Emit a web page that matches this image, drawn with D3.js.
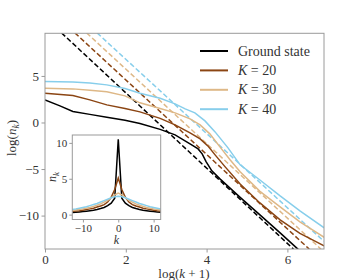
<!DOCTYPE html>
<html>
<head>
<meta charset="utf-8">
<script src="https://cdn.jsdelivr.net/npm/d3@7"></script>
<style>
  body { margin: 0; background: #fff; }
</style>
</head>
<body>
<svg width="360" height="280" font-family="Liberation Serif"></svg>
<script>
// series names and colours
const seriesNames = ["Ground state", "K = 20", "K = 30", "K = 40"];
const seriesColors = ["#000000", "#8b4513", "#deb887", "#87ceeb"];

// main panel: solid curves, [log(k+1), log(n_k)]
const groundSolid = [[0, 2.43], [0.37, 1.78], [0.69, 1.19], [1.11, 0.87], [1.53, 0.57], [1.98, 0.23],
  [2.35, -0.10], [2.85, -0.74], [3.22, -1.33], [3.59, -2.30], [3.79, -2.84], [3.89, -3.37],
  [3.99, -4.23], [4.13, -5.20], [4.33, -6.06], [4.83, -8.05], [5.32, -9.92], [5.82, -11.86],
  [6.24, -13.52], [6.44, -14.33]];
const k20Solid = [[0, 3.15], [0.69, 2.89], [1.11, 2.43], [1.53, 1.89], [1.98, 1.51], [2.35, 1.14],
  [2.85, 0.44], [3.22, -0.26], [3.59, -1.12], [3.84, -1.76], [4.03, -2.51], [4.21, -3.48],
  [4.46, -4.77], [4.83, -6.60], [5.32, -8.64], [5.82, -10.46], [6.31, -11.91], [6.91, -13.25]];
const k30Solid = [[0, 3.68], [0.69, 3.61], [1.11, 3.45], [1.53, 3.29], [1.98, 2.86], [2.35, 2.11],
  [2.85, 1.51], [3.22, 1.03], [3.59, 0.39], [3.84, -0.26], [4.08, -1.22], [4.33, -2.62],
  [4.58, -4.01], [4.83, -5.30], [5.32, -7.40], [5.82, -9.06], [6.31, -10.67], [6.91, -12.34]];
const k40Solid = [[0, 4.39], [0.69, 4.36], [1.11, 4.25], [1.53, 4.04], [1.98, 3.66], [2.35, 3.15],
  [2.85, 2.61], [3.22, 2.0], [3.47, 1.46], [3.71, 1.03], [3.96, 0.17], [4.21, -1.01],
  [4.53, -2.73], [4.83, -4.55], [5.32, -6.18], [5.82, -7.89], [6.31, -9.49], [6.91, -11.32]];

// main panel: dashed k^-4 guides (end points)
const groundDash = [[0.41, 9.62], [6.15, -13.6]];
const k20Dash = [[0.74, 9.62], [6.54, -13.6]];
const k30Dash = [[1.03, 9.62], [6.83, -13.6]];
const k40Dash = [[1.29, 9.62], [6.9, -12.75]];

// inset: n_k against k
const insetK = d3.range(-13, 13);
const groundInset = [0.30, 0.33, 0.37, 0.42, 0.48, 0.55, 0.62, 0.72, 0.85, 1.0, 1.25, 1.6, 2.3,
  10.5, 2.3, 1.6, 1.25, 1.0, 0.85, 0.72, 0.62, 0.55, 0.48, 0.42, 0.37, 0.33];
const k20Inset = [0.46, 0.5, 0.55, 0.62, 0.7, 0.8, 0.9, 1.05, 1.2, 1.4, 1.75, 2.4, 3.5,
  5.1, 3.5, 2.4, 1.75, 1.4, 1.2, 1.05, 0.9, 0.8, 0.7, 0.62, 0.55, 0.5];
const k30Inset = [0.57, 0.63, 0.7, 0.8, 0.9, 1.0, 1.15, 1.3, 1.5, 1.75, 2.0, 2.35, 2.75,
  3.0, 2.75, 2.35, 2.0, 1.75, 1.5, 1.3, 1.15, 1.0, 0.9, 0.8, 0.7, 0.63];
const k40Inset = [0.72, 0.8, 0.9, 1.0, 1.1, 1.25, 1.4, 1.55, 1.75, 1.95, 2.15, 2.35, 2.5,
  2.55, 2.5, 2.35, 2.15, 1.95, 1.75, 1.55, 1.4, 1.25, 1.1, 1.0, 0.9, 0.8];

const mainTicksX = [0, 2, 4, 6];
const mainTicksY = [-10, -5, 0, 5];
const insetTicksX = [-10, 0, 10];
const insetTicksY = [0, 5, 10];

const svg = d3.select("svg");
const frameColor = "#9a9a9a";
const textColor = "#333";

// ---------- main panel ----------
const x = d3.scaleLinear().domain([0, 6.906]).range([45, 324]);
const y = d3.scaleLinear().domain([-13.59, 9.58]).range([249, 33.3]);

svg.append("clipPath").attr("id", "mainClip")
  .append("rect").attr("x", 45).attr("y", 33.3).attr("width", 279).attr("height", 215.7);

const line = d3.line().x(d => x(d[0])).y(d => y(d[1]));
const plot = svg.append("g").attr("clip-path", "url(#mainClip)");

const dashes = [groundDash, k20Dash, k30Dash, k40Dash];
const solids = [groundSolid, k20Solid, k30Solid, k40Solid];

dashes.forEach((d, i) => {
  plot.append("path").attr("d", line(d)).attr("fill", "none")
    .attr("stroke", seriesColors[i]).attr("stroke-width", 1.5)
    .attr("stroke-dasharray", "5,2.5");
});
solids.forEach((d, i) => {
  plot.append("path").attr("d", line(d)).attr("fill", "none")
    .attr("stroke", seriesColors[i]).attr("stroke-width", 1.5);
});

function styleAxis(g, size) {
  g.attr("font-family", "Liberation Serif").attr("font-size", size);
  g.selectAll(".domain").remove();
  g.selectAll(".tick line").attr("stroke", frameColor);
  g.selectAll(".tick text").attr("fill", textColor);
}

svg.append("g").attr("transform", "translate(0,249)")
  .call(d3.axisBottom(x).tickValues(mainTicksX).tickSize(3.5).tickPadding(2).tickFormat(d3.format("d")))
  .call(styleAxis, 13);
svg.append("g").attr("transform", "translate(45,0)")
  .call(d3.axisLeft(y).tickValues(mainTicksY).tickSize(3.5).tickPadding(2.5).tickFormat(d3.format("d")))
  .call(styleAxis, 13);

svg.append("rect").attr("x", 45).attr("y", 33.3).attr("width", 279).attr("height", 215.7)
  .attr("fill", "none").attr("stroke", frameColor).attr("stroke-width", 1);

// axis labels
const xl = svg.append("text").attr("x", 184).attr("y", 278).attr("text-anchor", "middle")
  .attr("font-size", 13).attr("fill", textColor);
xl.append("tspan").text("log(");
xl.append("tspan").attr("font-style", "italic").text("k");
xl.append("tspan").text(" + 1)");

const yl = svg.append("text").attr("transform", "translate(16,138) rotate(-90)")
  .attr("text-anchor", "middle").attr("font-size", 13).attr("fill", textColor);
yl.append("tspan").text("log(");
yl.append("tspan").attr("font-style", "italic").text("n");
yl.append("tspan").attr("font-style", "italic").attr("font-size", 9.5).attr("dy", 3).text("k");
yl.append("tspan").attr("dy", -3).text(")");

// legend
const legend = svg.append("g");
seriesNames.forEach((name, i) => {
  const ly = 51 + i * 19.4;
  legend.append("line").attr("x1", 200).attr("x2", 228).attr("y1", ly).attr("y2", ly)
    .attr("stroke", seriesColors[i]).attr("stroke-width", 2);
  const t = legend.append("text").attr("x", 238).attr("y", ly + 4.5)
    .attr("font-size", 14).attr("fill", textColor);
  if (i === 0) {
    t.text(name);
  } else {
    const parts = name.split(" = ");
    t.append("tspan").attr("font-style", "italic").text(parts[0]);
    t.append("tspan").text(" = " + parts[1]);
  }
});

// ---------- inset ----------
const ix = d3.scaleLinear().domain([-13, 12]).range([72.3, 160.7]);
const iy = d3.scaleLinear().domain([-0.68, 11.1]).range([219.5, 135]);

svg.append("rect").attr("x", 72.3).attr("y", 135).attr("width", 88.4).attr("height", 84.5)
  .attr("fill", "#fff");

const insetLine = d3.line().x((d, j) => ix(insetK[j])).y(d => iy(d));
[groundInset, k20Inset, k30Inset, k40Inset].forEach((d, i) => {
  svg.append("path").attr("d", insetLine(d)).attr("fill", "none")
    .attr("stroke", seriesColors[i]).attr("stroke-width", 1.5);
});

svg.append("g").attr("transform", "translate(0,219.5)")
  .call(d3.axisBottom(ix).tickValues(insetTicksX).tickSize(3).tickPadding(1.5).tickFormat(d3.format("d")))
  .call(styleAxis, 11);
svg.append("g").attr("transform", "translate(72.3,0)")
  .call(d3.axisLeft(iy).tickValues(insetTicksY).tickSize(3).tickPadding(2).tickFormat(d3.format("d")))
  .call(styleAxis, 11);

svg.append("rect").attr("x", 72.3).attr("y", 135).attr("width", 88.4).attr("height", 84.5)
  .attr("fill", "none").attr("stroke", frameColor).attr("stroke-width", 1);

svg.append("text").attr("x", 116.5).attr("y", 244).attr("text-anchor", "middle")
  .attr("font-style", "italic").attr("font-size", 12).attr("fill", textColor).text("k");
const il = svg.append("text").attr("transform", "translate(56,177) rotate(-90)")
  .attr("text-anchor", "middle").attr("font-size", 12).attr("fill", textColor);
il.append("tspan").attr("font-style", "italic").text("n");
il.append("tspan").attr("font-style", "italic").attr("font-size", 9).attr("dy", 2.5).text("k");
</script>
</body>
</html>
